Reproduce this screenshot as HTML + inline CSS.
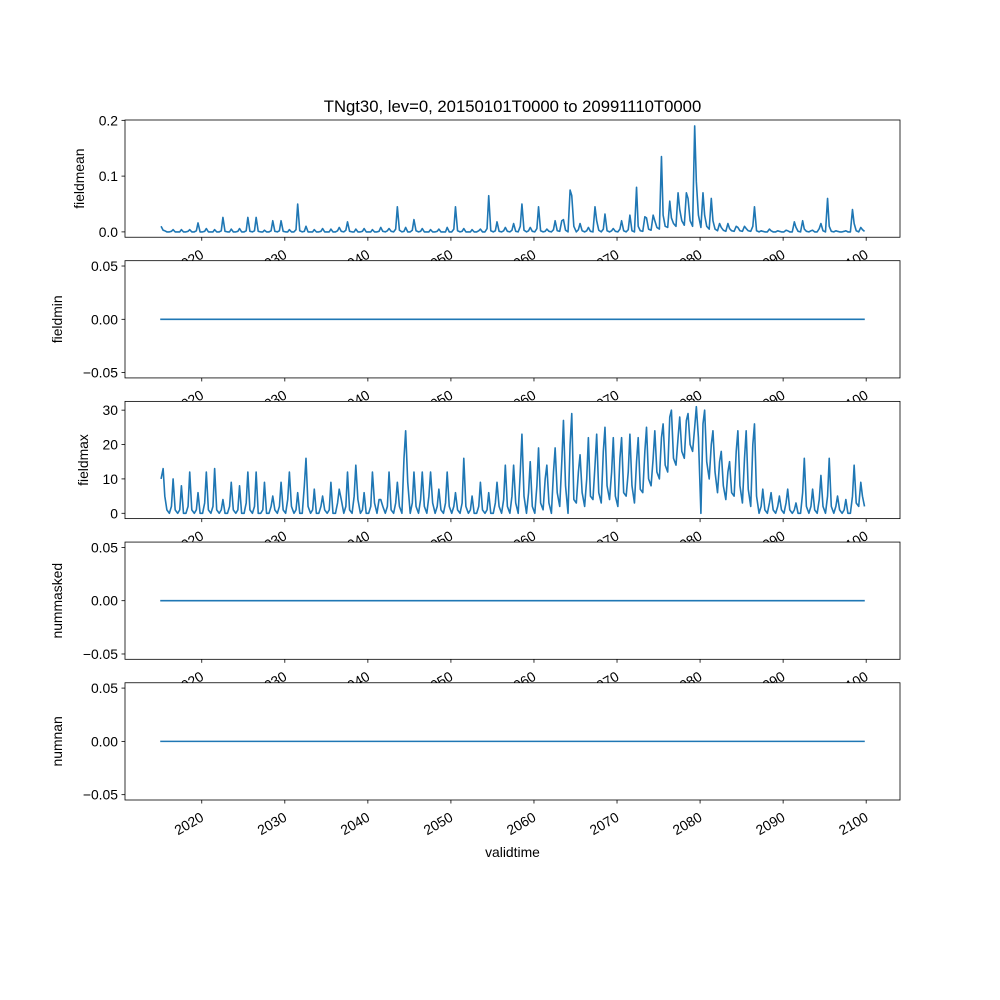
<!DOCTYPE html>
<html><head><meta charset="utf-8"><style>
html,body{margin:0;padding:0;background:#fff;}
svg{display:block;font-family:"Liberation Sans","DejaVu Sans",sans-serif;}
</style></head><body>
<svg id="fig" width="1000" height="1000" viewBox="0 0 1000 1000"></svg>
<script>
// ---- data ----
const years = [];
for (let y = 2015; y <= 2099; y++) years.push(y);
const quarterOffsets = [0.1, 0.35, 0.55, 0.8];
const fieldmaxValues = [
10,13,5,1, 0,2,10,1, 0,1,8,0, 0,2,12,1, 0,1,6,0, 0,3,12,1, 0,2,13,1, 0,1,4,0, 0,2,9,1, 0,1,8,0,
0,3,12,1, 0,2,12,0, 0,1,9,0, 0,2,5,1, 0,2,9,1, 0,4,12,2, 0,1,6,0, 0,8,16,2, 0,1,7,0, 0,2,5,1,
0,1,9,0, 0,3,7,4, 0,2,12,1, 0,5,14,4, 0,1,6,0, 0,2,12,3, 0,4,4,2, 0,2,12,1, 0,3,9,2, 0,16,24,9,
0,3,12,2, 0,4,12,2, 0,5,12,3, 0,2,7,1, 0,3,12,2, 0,2,6,1, 0,3,16,2, 0,1,5,0, 0,2,9,1, 0,1,6,0,
0,3,9,2, 0,4,14,2, 0,5,14,3, 0,12,23,5, 0,6,15,2, 0,8,19,3, 1,10,14,3, 0,12,19,6, 2,15,27,8, 0,20,29,4,
3,12,17,6, 2,10,22,5, 4,14,23,6, 3,18,25,8, 4,12,22,5, 2,16,22,6, 5,12,23,8, 3,15,22,7, 6,18,25,10, 8,16,24,12,
10,22,26,14, 12,28,30,16, 14,22,28,18, 16,27,29,20, 18,25,31,22, 0,26,30,15, 10,20,24,12, 6,15,18,8, 4,12,15,6, 5,18,24,8,
3,16,24,7, 2,20,26,5, 0,2,7,1, 0,3,6,1, 0,2,5,1, 0,3,7,1, 0,1,3,0, 0,6,16,2, 0,2,7,1, 0,4,11,2,
0,5,16,2, 0,2,5,1, 0,1,4,0, 0,5,14,3, 2,9,5,2
];
const fieldmeanValues = [
.010,.003,.002,0, 0,.001,.004,0, 0,0,.004,0, 0,.001,.004,0, 0,.002,.016,0, 0,.001,.006,0, 0,0,.004,0, 0,.002,.026,.001, 0,0,.005,0, 0,.001,.006,0,
0,.002,.026,.001, 0,.002,.026,.001, 0,0,.003,0, 0,.002,.020,.001, 0,.002,.020,.001, 0,0,.004,0, 0,.004,.050,.002, 0,.001,.010,0, 0,0,.004,0, 0,.001,.006,0,
0,0,.005,0, 0,.002,.008,.001, 0,.003,.018,.001, 0,0,.005,0, 0,.001,.006,0, 0,0,.004,0, 0,.001,.008,.001, 0,.002,.006,.001, 0,.005,.045,.003, 0,.001,.008,0,
0,.003,.022,.002, 0,.001,.006,0, 0,0,.004,0, 0,.001,.005,0, 0,0,.008,0, 0,.005,.045,.002, 0,.001,.006,0, 0,0,.004,0, 0,.002,.005,0, 0,.006,.065,.002,
0,.002,.018,.001, 0,.002,.008,.001, 0,.003,.015,.001, 0,.010,.050,.003, 0,.002,.008,.001, 0,.006,.045,.002, 0,.001,.005,.001, 0,.004,.020,.002, .001,.020,.022,.003, 0,.075,.065,.010,
0,.004,.015,.002, 0,.002,.008,.001, 0,.045,.020,.003, 0,.005,.032,.002, 0,.002,.006,.001, 0,.005,.020,.002, 0,.004,.030,.002, 0,.080,.010,.002, .001,.027,.025,.005, .003,.030,.020,.008,
.005,.135,.030,.010, .008,.055,.025,.015, .010,.070,.040,.020, .012,.070,.060,.020, .010,.190,.090,.030, .008,.070,.030,.010, .005,.060,.020,.005, .002,.015,.008,.003, .001,.015,.006,.002, .001,.010,.008,.002,
.001,.010,.006,.002, .001,.010,.045,.002, 0,.002,.001,0, 0,.005,.002,0, 0,.002,.001,0, 0,.003,.002,0, 0,.018,.008,.001, 0,.020,.005,.001, 0,.002,.003,0, 0,.006,.015,.002,
0,.060,.010,.001, 0,.002,.001,0, 0,.001,.002,0, 0,.040,.015,.002, 0,.008,.004,.001
];
const zeroValues = [0, 0];
const zeroTimes = [2015.0, 2099.83];
const xTicks = [2020, 2030, 2040, 2050, 2060, 2070, 2080, 2090, 2100];
const xTickLabels = ["2020","2030","2040","2050","2060","2070","2080","2090","2100"];

// ---- layout ----
const NS = "http://www.w3.org/2000/svg";
const svg = document.getElementById("fig");
const L = 125, R = 900, axH = 117.24, gap = 23.45, top0 = 120;
const FS = 13.9;
const xmin = 2015.0 - 0.05 * 84.83, xmax = 2099.83 + 0.05 * 84.83;
function xs(t) { return L + (t - xmin) / (xmax - xmin) * (R - L); }
function el(tag, attrs, parent) {
  const e = document.createElementNS(NS, tag);
  for (const k in attrs) e.setAttribute(k, attrs[k]);
  (parent || svg).appendChild(e);
  return e;
}
const quarterTimes = [];
years.forEach(y => quarterOffsets.forEach(o => quarterTimes.push(y + o)));

const panels = [
  {name: "fieldmean", times: quarterTimes, values: fieldmeanValues, ylim: [-0.0096, 0.2006], ticks: [0, 0.1, 0.2], labels: ["0.0","0.1","0.2"], lx: 84},
  {name: "fieldmin", times: zeroTimes, values: zeroValues, ylim: [-0.055, 0.055], ticks: [-0.05, 0, 0.05], labels: ["−0.05","0.00","0.05"], lx: 62},
  {name: "fieldmax", times: quarterTimes, values: fieldmaxValues, ylim: [-1.55, 32.55], ticks: [0, 10, 20, 30], labels: ["0","10","20","30"], lx: 88},
  {name: "nummasked", times: zeroTimes, values: zeroValues, ylim: [-0.055, 0.055], ticks: [-0.05, 0, 0.05], labels: ["−0.05","0.00","0.05"], lx: 62},
  {name: "numnan", times: zeroTimes, values: zeroValues, ylim: [-0.055, 0.055], ticks: [-0.05, 0, 0.05], labels: ["−0.05","0.00","0.05"], lx: 62}
];

const title = el("text", {x: 512.5, y: 112, "text-anchor": "middle", "font-size": 16.7});
title.textContent = "TNgt30, lev=0, 20150101T0000 to 20991110T0000";



panels.forEach((p, i) => {
  const T = top0 + i * (axH + gap), B = T + axH;
  const ys = v => B - (v - p.ylim[0]) / (p.ylim[1] - p.ylim[0]) * axH;
  const g = el("g", {});
  
  
  el("rect", {x: L, y: T, width: R - L, height: axH, fill: "#fff"}, g);
  const pts = p.times.map((t, k) => xs(t).toFixed(2) + "," + ys(p.values[k]).toFixed(2)).join(" ");
  const line = el("polyline", {points: pts, fill: "none", stroke: "#1f77b4", "stroke-width": 1.6, "stroke-linejoin": "round"}, g);
  
  
  el("rect", {x: L, y: T, width: R - L, height: axH, fill: "none", stroke: "#000", "stroke-width": 0.8}, g);
  p.ticks.forEach((v, k) => {
    const y = ys(v);
    el("line", {x1: L - 3.5, x2: L, y1: y, y2: y, stroke: "#000", "stroke-width": 0.8}, g);
    const t = el("text", {x: L - 7, y: y + 5, "text-anchor": "end", "font-size": FS}, g);
    t.textContent = p.labels[k];
    
    
  });
  const yl = el("text", {x: p.lx, y: (T + B) / 2, "text-anchor": "middle", "font-size": FS, transform: `rotate(-90 ${p.lx} ${(T + B) / 2})`}, g);
  yl.textContent = p.name;
  
  
  xTicks.forEach((tv, k) => {
    const x = xs(tv);
    el("line", {x1: x, x2: x, y1: B, y2: B + 3.5, stroke: "#000", "stroke-width": 0.8}, g);
    const ax = x + 3, ay = B + 20;
    const t = el("text", {x: ax, y: ay, "text-anchor": "end", "font-size": FS, transform: `rotate(-30 ${ax} ${ay})`}, g);
    t.textContent = xTickLabels[k];
    
    
  });
});
const xl = el("text", {x: 512.5, y: 857, "text-anchor": "middle", "font-size": FS});
xl.textContent = "validtime";


</script>
</body></html>
